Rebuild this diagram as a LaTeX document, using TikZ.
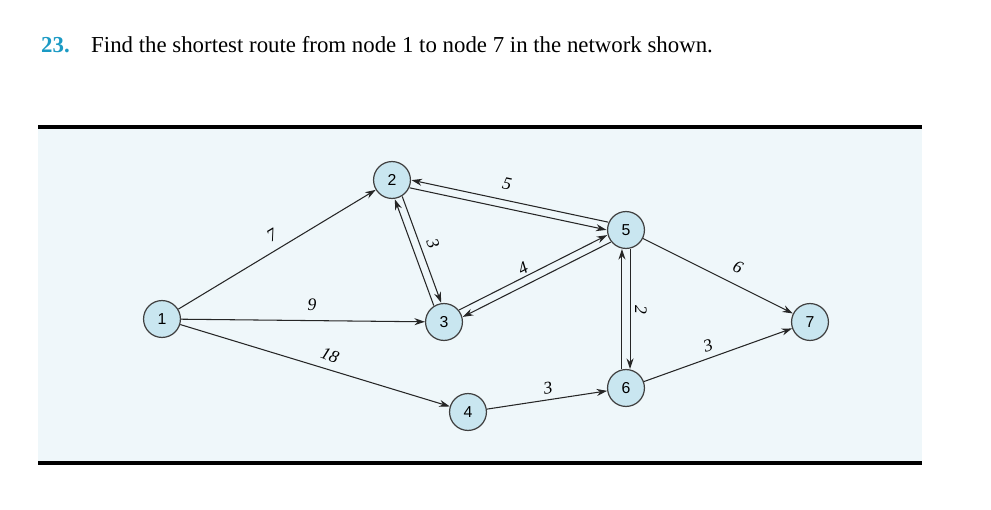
\documentclass[tikz,border=0pt]{standalone}
\usepackage{fontspec}
\setmainfont{Liberation Serif}
\newfontfamily\sff{Liberation Sans}
\usetikzlibrary{arrows.meta}
\definecolor{bg}{HTML}{EFF7FA}
\definecolor{nodefill}{HTML}{C9E6F0}
\definecolor{numcol}{HTML}{1B9AC4}
\begin{document}
\begin{tikzpicture}[x=0.02cm,y=-0.02cm,
  nd/.style={circle,draw=black!75,fill=nodefill,line width=0.7pt,minimum size=21pt,inner sep=0pt,font=\sff\small},
  ed/.style={-{Stealth[length=6pt,width=4pt]},line width=0.6pt,black!85},
  lb/.style={font=\itshape\fontsize{10}{12}\selectfont,inner sep=1pt}]
\useasboundingbox (0,0) rectangle (991,510);
\fill[bg] (38,127) rectangle (922,463);
\draw[line width=2.2pt] (38,127) -- (922,127);
\draw[line width=2.2pt] (38,463) -- (922,463);
\node[anchor=west,font=\bfseries\fontsize{13}{15}\selectfont,text=numcol] (t1) at (35,45) {23.};
\node[anchor=west,font=\fontsize{13}{15}\selectfont] (t2) at (85,45) {Find the shortest route from node 1 to node 7 in the network shown.};
\node[nd] (n1) at (162,319) {1};
\node[nd] (n2) at (392,180) {2};
\node[nd] (n3) at (444,322) {3};
\node[nd] (n4) at (468,412) {4};
\node[nd] (n5) at (626,230) {5};
\node[nd] (n6) at (626,388) {6};
\node[nd] (n7) at (810,322) {7};
\draw[ed] (n1) -- (n2);
\draw[ed] (n1) -- (n3);
\draw[ed] (n1) -- (n4);
\draw[ed] (n4) -- (n6);
\draw[ed] (n5) -- (n7);
\draw[ed] (n6) -- (n7);
\draw[ed,transform canvas={shift={(0.5pt,2.2pt)}}] (n5) -- (n2);
\draw[ed,transform canvas={shift={(-0.5pt,-2.2pt)}}] (n2) -- (n5);
\draw[ed,transform canvas={shift={(-2.1pt,-0.8pt)}}] (n3) -- (n2);
\draw[ed,transform canvas={shift={(2.1pt,0.8pt)}}] (n2) -- (n3);
\draw[ed,transform canvas={shift={(-1pt,2pt)}}] (n3) -- (n5);
\draw[ed,transform canvas={shift={(1pt,-2pt)}}] (n5) -- (n3);
\draw[ed,transform canvas={shift={(-2.3pt,0pt)}}] (n6) -- (n5);
\draw[ed,transform canvas={shift={(2.3pt,0pt)}}] (n5) -- (n6);
\node[lb,rotate=31] (l12) at (272,235) {7};
\node[lb] (l13) at (312,305) {9};
\node[lb,rotate=-22] (l14) at (330,355) {18};
\node[lb,rotate=-12] (l25) at (507,184) {5};
\node[lb,rotate=-70] (l23) at (433,244) {3};
\node[lb,rotate=27] (l35) at (523,268) {4};
\node[lb,rotate=-90] (l56) at (641,310) {2};
\node[lb,rotate=-25] (l57) at (738,267) {6};
\node[lb,rotate=18] (l67) at (708,346) {3};
\node[lb,rotate=10] (l46) at (548,388) {3};
\end{tikzpicture}
\end{document}
